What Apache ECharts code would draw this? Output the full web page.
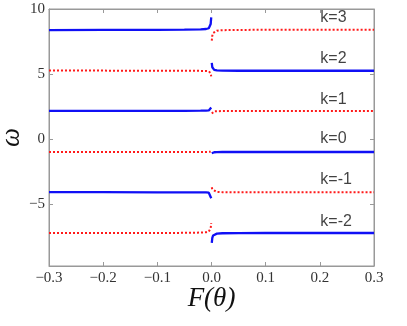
<!DOCTYPE html>
<html><head><meta charset="utf-8">
<script src="https://cdn.jsdelivr.net/npm/echarts@6/dist/echarts.min.js"></script>
<style>html,body{margin:0;padding:0;background:#fff}#c{width:407px;height:326px}</style>
</head><body><div id="c"></div>
<script>
// F(theta) sample points on each side of zero
var xLeft  = [-0.3, -0.2, -0.1, -0.05, -0.02, -0.01, -0.005, -0.003, -0.0015, -0.0005];
var xRight = [0.0005, 0.0015, 0.003, 0.005, 0.01, 0.02, 0.05, 0.1, 0.2, 0.3];

// omega values, left branch (F<0)
var k3Left  = [8.38, 8.39, 8.40, 8.41, 8.43, 8.46, 8.52, 8.62, 8.85, 9.35];   // blue
var k2Left  = [5.26, 5.26, 5.25, 5.25, 5.24, 5.23, 5.21, 5.15, 5.05, 4.82];   // red
var k1Left  = [2.16, 2.16, 2.17, 2.17, 2.18, 2.19, 2.20, 2.23, 2.29, 2.42];   // blue
var k0Left  = [-1.00, -1.00, -1.00, -1.00, -1.00, -1.00, -0.99, -0.99, -0.98, -0.96]; // red
var km1Left = [-4.09, -4.09, -4.10, -4.10, -4.10, -4.11, -4.13, -4.17, -4.25, -4.56]; // blue
var km2Left = [-7.24, -7.24, -7.23, -7.22, -7.20, -7.17, -7.12, -7.03, -6.85, -6.48]; // red

// omega values, right branch (F>0)
var k3Right  = [7.56, 7.95, 8.15, 8.26, 8.33, 8.37, 8.39, 8.40, 8.40, 8.40];   // red
var k2Right  = [5.85, 5.52, 5.38, 5.32, 5.28, 5.26, 5.25, 5.25, 5.25, 5.25];   // blue
var k1Right  = [1.96, 2.06, 2.11, 2.13, 2.14, 2.15, 2.15, 2.15, 2.15, 2.15];   // red
var k0Right  = [-1.10, -1.05, -1.03, -1.02, -1.01, -1.00, -1.00, -1.00, -1.00, -1.00]; // blue
var km1Right = [-3.72, -3.88, -3.97, -4.03, -4.07, -4.09, -4.10, -4.10, -4.10, -4.10]; // red
var km2Right = [-8.00, -7.60, -7.42, -7.34, -7.28, -7.25, -7.24, -7.23, -7.23, -7.23]; // blue

// k labels (left edge of text)
var kLabels = ['k=3', 'k=2', 'k=1', 'k=0', 'k=-1', 'k=-2'];
var kLabelX = [0.2, 0.2, 0.2, 0.2, 0.2, 0.2];
var kLabelY = [9.31, 6.15, 3.0, 0.0, -3.15, -6.38];

var yTicks = [-5, 0, 5, 10];

var BLUE = '#1010f5', RED = '#ff1a1a';
function pairs(xs, ys){ return xs.map(function(x,i){ return [x, ys[i]]; }); }
function solid(xs, ys){ return {type:'line', data:pairs(xs,ys), showSymbol:false, symbol:'none', silent:true,
  lineStyle:{color:BLUE, width:2.3}, z:3}; }
function dotted(xs, ys){ return {type:'line', data:pairs(xs,ys), showSymbol:false, symbol:'none', silent:true,
  lineStyle:{color:RED, width:2, type:[2,2]}, z:3}; }

var series = [
  solid(xLeft, k3Left), dotted(xRight, k3Right),
  dotted(xLeft, k2Left), solid(xRight, k2Right),
  solid(xLeft, k1Left), dotted(xRight, k1Right),
  dotted(xLeft, k0Left), solid(xRight, k0Right),
  solid(xLeft, km1Left), dotted(xRight, km1Right),
  dotted(xLeft, km2Left), solid(xRight, km2Right),
  {type:'scatter', symbol:'circle', symbolSize:1, itemStyle:{color:'rgba(0,0,0,0)'}, silent:true,
   labelLayout:{hideOverlap:false},
   data: kLabels.map(function(t,i){ return {value:[kLabelX[i], kLabelY[i]], name:t}; }),
   label:{show:true, position:'right', distance:0, align:'left', verticalAlign:'middle',
     formatter:function(p){return p.name;},
     fontFamily:"'Liberation Sans', Arial, sans-serif", fontSize:16, color:'#111'}, z:5}
];

function fmt(v){ var s = (Math.abs(v) < 1e-9 ? 0 : v); var t = (Math.round(s*10)/10).toFixed(1); return t.replace('-', '\u2212'); }
var SERIF = "'Liberation Serif', 'DejaVu Serif', serif";
var AX = '#999';

var chart = echarts.init(document.getElementById('c'), null, {renderer:'canvas'});
chart.setOption({
  animation:false,
  backgroundColor:'#fff',
  grid:{left:49, right:33, top:9, bottom:60, show:true, borderColor:AX, borderWidth:1,
        containLabel:false, outerBoundsMode:'none'},
  xAxis:[{type:'value', min:-0.3, max:0.3, interval:0.1,
    name:'F(\u03b8)', nameLocation:'middle', nameGap:19, nameMoveOverlap:false,
    nameTextStyle:{fontFamily:SERIF, fontStyle:'italic', fontSize:27, color:'#111', verticalAlign:'top'},
    axisLine:{show:true, onZero:false, lineStyle:{color:AX}},
    axisTick:{show:true, inside:true, length:4, lineStyle:{color:AX}},
    axisLabel:{fontFamily:SERIF, fontSize:15, color:'#333', margin:5, formatter:fmt},
    splitLine:{show:false}},
   {type:'value', position:'top', min:-0.3, max:0.3, interval:0.1,
    axisLine:{show:true, onZero:false, lineStyle:{color:AX}},
    axisTick:{show:true, inside:true, length:4, lineStyle:{color:AX}},
    axisLabel:{show:false}, splitLine:{show:false}}],
  yAxis:[{type:'value', min:-9.77, max:10,
    name:'\u03c9', nameLocation:'middle', nameGap:37, nameRotate:90, nameMoveOverlap:false,
    nameTextStyle:{fontFamily:SERIF, fontStyle:'italic', fontSize:27, color:'#111',
      align:'center', verticalAlign:'middle'},
    axisLine:{show:true, onZero:false, lineStyle:{color:AX}},
    axisTick:{show:true, inside:true, length:4, customValues:yTicks, lineStyle:{color:AX}},
    axisLabel:{fontFamily:SERIF, fontSize:15, color:'#333', margin:4, customValues:yTicks,
      formatter:function(v){ return String(Math.round(v)).replace('-', '\u2212'); }},
    splitLine:{show:false}},
   {type:'value', position:'right', min:-9.77, max:10,
    axisLine:{show:true, onZero:false, lineStyle:{color:AX}},
    axisTick:{show:true, inside:true, length:4, customValues:yTicks, lineStyle:{color:AX}},
    axisLabel:{show:false}, splitLine:{show:false}}],
  series: series
});
</script></body></html>
